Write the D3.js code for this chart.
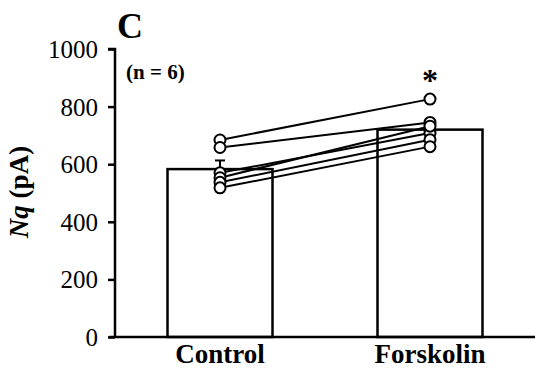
<!DOCTYPE html>
<html><head><meta charset="utf-8">
<script src="https://cdn.jsdelivr.net/npm/d3@7"></script>
<style>body{margin:0;background:#fff}svg{display:block}</style>
</head><body>
<script>
const categories = ["Control", "Forskolin"];
const means = [583, 720];
const sems = [30, 22];
const controlCells = [684, 658, 570, 553, 537, 518];
const forskolinCells = [826, 745, 708, 732, 685, 661];
const yTicks = [0, 200, 400, 600, 800, 1000];

const W = 535, H = 370;
const svg = d3.select("body").append("svg").attr("width", W).attr("height", H);
const y = d3.scaleLinear().domain([0, 1000]).range([337, 49]);
const x = d3.scaleBand().domain(categories).range([115, 535]).paddingInner(0.5).paddingOuter(0.25);
const font = "'Liberation Serif','Times New Roman',serif";

// bars
svg.selectAll("rect.bar").data(categories).enter().append("rect")
  .attr("x", d => x(d)).attr("width", x.bandwidth())
  .attr("y", (d, i) => y(means[i])).attr("height", (d, i) => y(0) - y(means[i]))
  .attr("fill", "#fff").attr("stroke", "#000").attr("stroke-width", 2.5);

// error bars
categories.forEach((c, i) => {
  const cx = x(c) + x.bandwidth() / 2;
  svg.append("line").attr("x1", cx).attr("x2", cx).attr("y1", y(means[i])).attr("y2", y(means[i] + sems[i]))
    .attr("stroke", "#000").attr("stroke-width", 2);
  svg.append("line").attr("x1", cx - 5).attr("x2", cx + 5).attr("y1", y(means[i] + sems[i])).attr("y2", y(means[i] + sems[i]))
    .attr("stroke", "#000").attr("stroke-width", 2);
});

// paired lines
const cx0 = x("Control") + x.bandwidth() / 2, cx1 = x("Forskolin") + x.bandwidth() / 2;
controlCells.forEach((v, i) => {
  svg.append("line").attr("x1", cx0).attr("x2", cx1).attr("y1", y(v)).attr("y2", y(forskolinCells[i]))
    .attr("stroke", "#000").attr("stroke-width", 2);
});
[[cx0, controlCells], [cx1, forskolinCells]].forEach(([cx, arr]) => {
  svg.selectAll(null).data(arr).enter().append("circle")
    .attr("cx", cx).attr("cy", d => y(d)).attr("r", 5.5)
    .attr("fill", "#fff").attr("stroke", "#000").attr("stroke-width", 2);
});

// axes
const yAxis = d3.axisLeft(y).tickValues(yTicks).tickFormat(d3.format("d")).tickSize(7).tickPadding(10);
const gy = svg.append("g").attr("transform", "translate(115,0)").call(yAxis);
gy.select(".domain").attr("stroke-width", 2.5).attr("d", `M-7,${y(1000)}H0V${y(0)}`);
gy.selectAll(".tick line").attr("stroke-width", 2.5);
gy.selectAll(".tick text").attr("font-family", font).attr("font-size", 25).attr("fill", "#000").attr("dy", "0.34em");

svg.append("line").attr("x1", 109).attr("x2", 535).attr("y1", y(0)).attr("y2", y(0))
  .attr("stroke", "#000").attr("stroke-width", 2.5);

categories.forEach(c => {
  svg.append("text").attr("x", x(c) + x.bandwidth() / 2).attr("y", 363)
    .attr("text-anchor", "middle").attr("font-family", font).attr("font-weight", "bold")
    .attr("font-size", 27).text(c);
});

// y label
const yl = svg.append("text").attr("transform", "translate(28,192) rotate(-90)")
  .attr("text-anchor", "middle").attr("font-family", font).attr("font-weight", "bold").attr("font-size", 27);
yl.append("tspan").attr("font-style", "italic").text("Nq");
yl.append("tspan").text(" (pA)");

svg.append("text").attr("x", 117).attr("y", 38).attr("font-family", font).attr("font-weight", "bold")
  .attr("font-size", 36).text("C");
svg.append("text").attr("x", 126).attr("y", 79).attr("font-family", font).attr("font-weight", "bold")
  .attr("font-size", 21).text("(n = 6)");
svg.append("text").attr("x", cx1).attr("y", y(826) - 8).attr("text-anchor", "middle")
  .attr("font-family", font).attr("font-weight", "bold").attr("font-size", 32).text("*");
</script>
</body></html>
